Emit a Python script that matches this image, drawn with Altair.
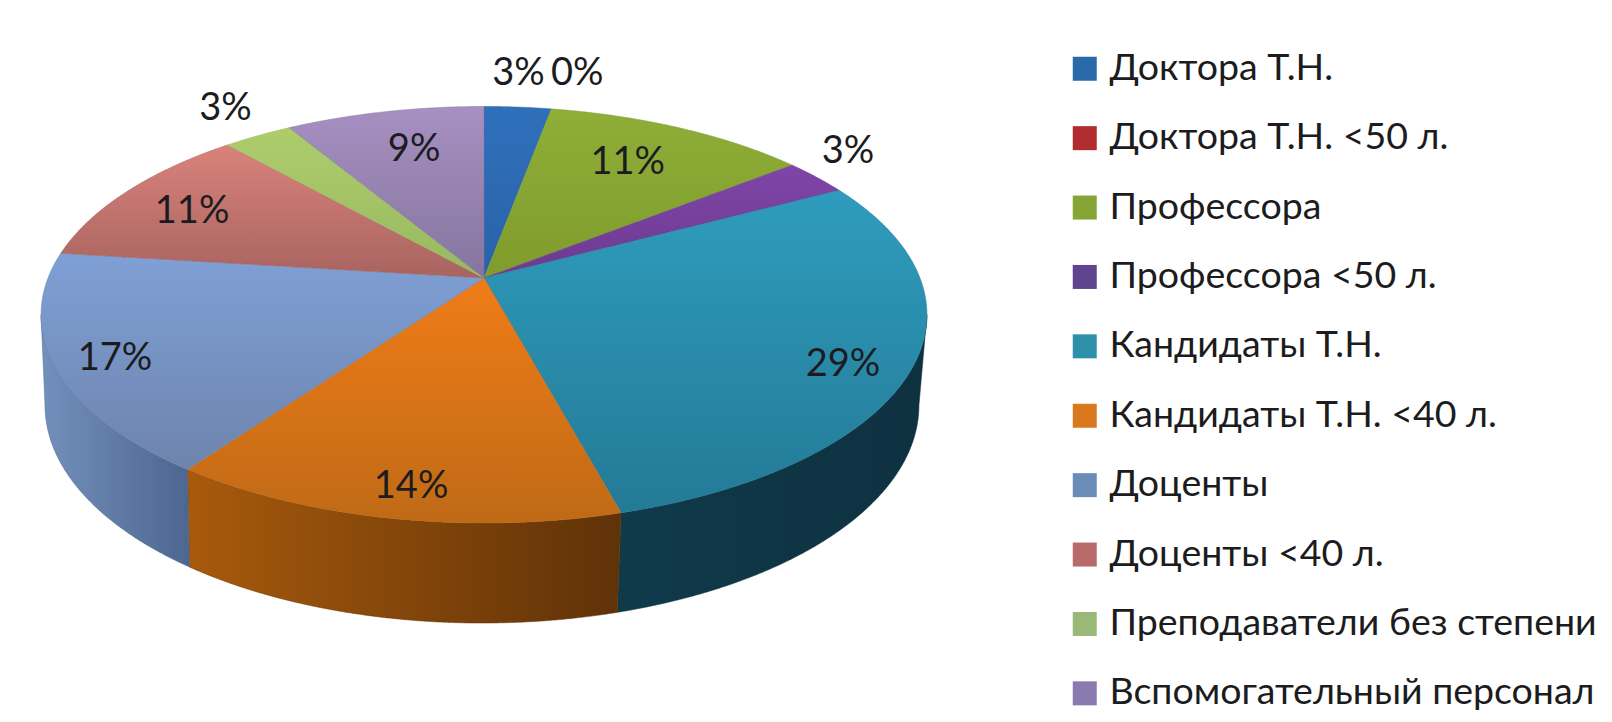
import numpy as np
import pandas as pd
import altair as alt

categories = ["Доктора Т.Н.", "Доктора Т.Н. <50 л.", "Профессора", "Профессора <50 л.",
              "Кандидаты Т.Н.", "Кандидаты Т.Н. <40 л.", "Доценты", "Доценты <40 л.",
              "Преподаватели без степени", "Вспомогательный персонал"]
values = [2.9, 0, 11.45, 2.85, 28.6, 14.1, 17.1, 11.4, 3.0, 8.6]
labels = ["3%", "0%", "11%", "3%", "29%", "14%", "17%", "11%", "3%", "9%"]
legend_colors = ["#2a6aa8", "#b02c2f", "#86a535", "#5f4590", "#2d8fa8",
                 "#d9781c", "#6a8db8", "#b96a6a", "#9ab878", "#8a7ab0"]
top_colors = [("#2f70bb", "#2a62a8"), ("#c0392f", "#a02c28"), ("#8fae38", "#7f9c2c"),
              ("#7f45a8", "#6c3a90"), ("#2f9cbd", "#237a96"), ("#f07c18", "#bf6a16"),
              ("#7fa0d6", "#6d84ad"), ("#da827c", "#a8645f"), ("#adcd6c", "#98b860"),
              ("#a690c2", "#85759e")]
wall_colors = [("#1d4a80", "#1d4a80"), ("#7a1f1c", "#7a1f1c"), ("#5c7420", "#5c7420"),
               ("#4c2a68", "#4c2a68"), ("#103a4a", "#0e3140"), ("#a85a0c", "#5f3208"),
               ("#7390bc", "#4c6690"), ("#804a46", "#804a46"), ("#6f8a44", "#6f8a44"),
               ("#5e5078", "#5e5078")]
label_rho = [1.249, 1.272, 0.741, 1.18, 0.861, 0.88, 0.872, 0.797, 1.217, 0.749]
label_turn = [-0.8, 1.4, -1.35, -4.0, 3.7, -1.0, -1.2, -1.0, 1.4, 1.5]

# perspective view of the disc, in page pixels
CX, CY, K, H, R = 484.0, 278.0, 0.1765, 201.8, 436.0
WALL_CX, WALL_CY, WALL_AX, WALL_AY = 482.0, 405.0, 437 / 443, 218 / 208.5
TOP_ELLIPSE_Y = 314.5


def project(theta_deg, rho=1.0):
    t = np.radians(theta_deg)
    u, v = rho * np.sin(t), rho * np.cos(t)
    d = 1 + K * v
    return CX + R * u / d, CY - H * v / d


def wall_point(x, y):
    return WALL_CX + (x - CX) * WALL_AX, WALL_CY + (y - TOP_ELLIPSE_Y) * WALL_AY


def slice_polygon(vertices):
    vx = np.array([p[0] for p in vertices])
    vy = np.array([p[1] for p in vertices])
    xs = np.unique(np.round(np.concatenate([vx, np.arange(vx.min(), vx.max(), 2.0)]), 2))
    x0, y0 = vx, vy
    x1, y1 = np.roll(vx, -1), np.roll(vy, -1)
    rows = []
    for x in xs:
        hits = []
        for a, b, c, d in zip(x0, y0, x1, y1):
            lo, hi = min(a, c), max(a, c)
            if lo - 0.006 <= x <= hi + 0.006:
                if abs(c - a) < 1e-6:
                    hits += [b, d]
                else:
                    f = min(1.0, max(0.0, (x - a) / (c - a)))
                    hits.append(b + f * (d - b))
        if hits:
            rows.append({"x": float(x), "y": round(min(hits), 2), "y2": round(max(hits), 2)})
    return pd.DataFrame(rows)


def linear(c0, c1, horizontal=False):
    return alt.LinearGradient(
        gradient="linear",
        stops=[alt.GradientStop(color=c0, offset=0), alt.GradientStop(color=c1, offset=1)],
        x1=0, y1=0, x2=1 if horizontal else 0, y2=0 if horizontal else 1,
    )


x_scale = alt.Scale(domain=[8, 1604], nice=False, zero=False)
y_scale = alt.Scale(domain=[714, 8], nice=False, zero=False)
X = alt.X("x:Q", scale=x_scale, axis=None)
Y = alt.Y("y:Q", scale=y_scale, axis=None)

edges = np.cumsum([0] + values) / sum(values) * 360
ext = np.degrees(np.arccos(-K))

walls, tops = [], []
for i, v in enumerate(values):
    if v <= 0:
        continue
    a, b = edges[i], edges[i + 1]
    ts = np.append(np.arange(a, b, 1.0), b)
    rim = [project(t) for t in ts]
    top = slice_polygon([(CX, CY)] + rim)
    tops.append(alt.Chart(top).mark_area(
        color=linear(*top_colors[i]), stroke=top_colors[i][1], strokeWidth=0.5
    ).encode(x=X, y=Y, y2="y2:Q"))
    wa, wb = max(a, ext), min(b, 360 - ext)
    if wa < wb:
        wt = np.append(np.arange(wa, wb, 1.0), wb)
        upper = [project(t) for t in wt]
        lower = [wall_point(*p) for p in upper]
        wall = slice_polygon(upper + lower[::-1])
        walls.append(alt.Chart(wall).mark_area(
            color=linear(*wall_colors[i], horizontal=True), stroke=wall_colors[i][1], strokeWidth=0.5
        ).encode(x=X, y=Y, y2="y2:Q"))

mids = (edges[:-1] + edges[1:]) / 2 + np.array(label_turn)
lx, ly = project(mids, np.array(label_rho))
label_df = pd.DataFrame({"x": np.round(lx, 1), "y": np.round(ly, 1), "label": labels})
text = alt.Chart(label_df).mark_text(
    font="Lato", fontSize=38, color="#1c1c20", align="center", baseline="middle", dy=2
).encode(x=X, y=Y, text="label:N")

legend_df = pd.DataFrame({"cat": categories, "x": [100] * 10, "y": [100] * 10})
legend_layer = alt.Chart(legend_df).mark_square(size=0, opacity=1).encode(
    x=X, y=Y,
    color=alt.Color("cat:N", sort=categories,
                    scale=alt.Scale(domain=categories, range=legend_colors),
                    legend=alt.Legend(
                        title=None, orient="none", legendX=1058, legendY=42,
                        symbolType="square", symbolSize=576, symbolOpacity=1, symbolStrokeWidth=0,
                        labelFont="Lato", labelFontSize=37.5, labelColor="#1c1c20",
                        labelOffset=6, labelLimit=560, rowPadding=30.4, padding=0,
                    )),
)

chart = alt.layer(*walls, *tops, text, legend_layer).properties(
    width=1596, height=706, padding=0, background="white",
    autosize=alt.AutoSizeParams(type="none"),
).configure_view(stroke=None)

chart.save("out.html", embed_options={"renderer": "svg", "actions": False})
